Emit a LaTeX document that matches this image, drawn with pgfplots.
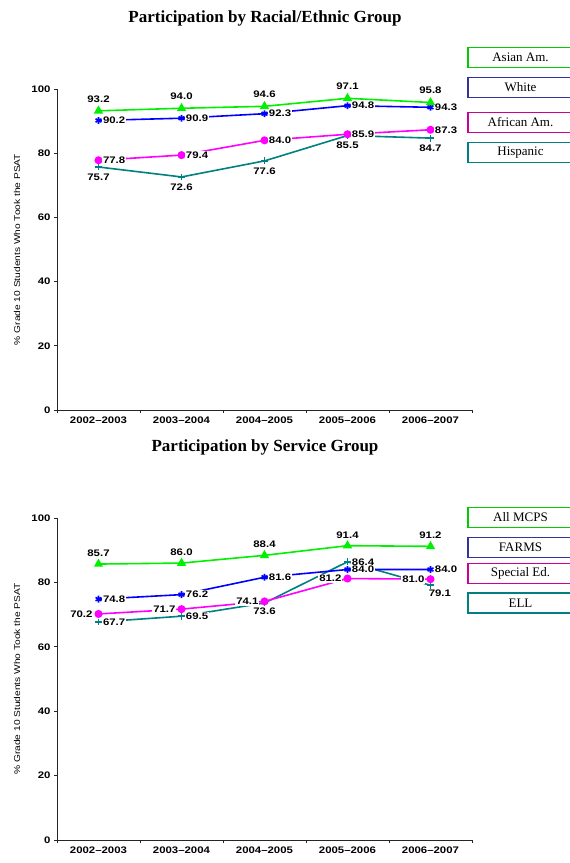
\documentclass[border=0pt]{standalone}
\usepackage{pgfplots}
\pgfplotsset{compat=1.18}
\usepackage{pgfplotstable}
\usepackage{fontspec}
\setmainfont{Liberation Serif}
\newfontfamily\lsans[FakeStretch=1.2]{Liberation Sans}

\definecolor{lgreen}{RGB}{0,240,0}
\definecolor{lblue}{RGB}{0,0,255}
\definecolor{lmag}{RGB}{255,0,255}
\definecolor{lteal}{RGB}{0,128,128}
\definecolor{bgreen}{RGB}{0,204,0}
\definecolor{bblue}{RGB}{51,51,153}
\definecolor{bmag}{RGB}{204,0,153}

% racial/ethnic groups
\pgfplotstableread{
x asian white african hispanic
1 93.2 90.2 77.8 75.7
2 94.0 90.9 79.4 72.6
3 94.6 92.3 84.0 77.6
4 97.1 94.8 85.9 85.5
5 95.8 94.3 87.3 84.7
}\racedata

% service groups
\pgfplotstableread{
x all farms
1 85.7 74.8
2 86.0 76.2
3 88.4 81.6
4 91.4 84.0
5 91.2 84.0
}\servdata
\pgfplotstableread{
x y
1 70.2
2 71.7
3 74.1
4 81.2
5 81.0
}\specdata
% anc = anchor angle of the value label
\pgfplotstableread{
x y anc
1 67.7 180
2 69.5 180
3 73.6 90
4 86.4 180
5 79.1 140
}\elldata

\newcommand{\lblfont}{\lsans\bfseries\fontsize{9.5}{11}\selectfont}

\pgfplotsset{
  psat/.style={
    scale only axis, width=415pt,
    xmin=0.5, xmax=5.5, ymin=0, ymax=100,
    axis x line*=bottom, axis y line*=left,
    axis line style={-, black!85, line width=0.9pt},
    xtick={1,...,5},
    xticklabels={2002–2003,2003–2004,2004–2005,2005–2006,2006–2007},
    minor xtick={0.5,1.5,2.5,3.5,4.5,5.5},
    major x tick style={draw=none},
    minor x tick style={draw=black!85, line width=0.9pt},
    ytick={0,20,40,60,80,100},
    y tick style={black!85, line width=0.9pt},
    tick align=outside,
    major tick length=3pt, minor tick length=3pt,
    tick label style={font=\lblfont},
    /pgf/number format/assume math mode=true,
    ylabel={\% Grade 10 Students Who Took the PSAT},
    ylabel style={font=\lsans\fontsize{8.5}{9}\selectfont,
      at={(axis description cs:-0.096,0.5)}, anchor=center},
    clip=false,
    nodes near coords={\pgfmathprintnumber[fixed,fixed zerofill,precision=1]{\pgfplotspointmeta}},
    every node near coord/.append style={font=\lblfont, text=black,
      fill=white, inner sep=1pt, outer sep=3.5pt},
  },
  ser/.style={line width=1.6pt, mark size=3.4pt, mark options={solid}},
}

\begin{document}
\begin{tikzpicture}
\useasboundingbox (0,0) rectangle (570pt,863pt);

% ---- top chart
\node[font=\bfseries\fontsize{17}{20}\selectfont] at (265pt,845pt)
  {Participation by Racial/Ethnic Group};
\begin{axis}[psat, height=321pt, at={(57pt,453pt)}, anchor=south west]
\addplot[ser, lteal, mark=+,
  every node near coord/.append style={anchor=north, yshift=-2pt}]
  table[x=x, y=hispanic] {\racedata};
\addplot[ser, lmag, mark=*, mark size=3.2pt,
  every node near coord/.append style={anchor=west}]
  table[x=x, y=african] {\racedata};
\addplot[ser, lblue, mark=asterisk,
  every node near coord/.append style={anchor=west}]
  table[x=x, y=white] {\racedata};
\addplot[ser, lgreen, mark=triangle*, mark size=3.8pt,
  every node near coord/.append style={anchor=south, yshift=4pt}]
  table[x=x, y=asian] {\racedata};
\end{axis}

\node[draw=bgreen, line width=1.8pt, minimum width=105pt, minimum height=20pt,
  font=\fontsize{13}{15}\selectfont] at (520.5pt,805.5pt) {Asian Am.};
\node[draw=bblue, line width=1.8pt, minimum width=105pt, minimum height=20pt,
  font=\fontsize{13}{15}\selectfont] at (520.5pt,775.5pt) {White};
\node[draw=bmag, line width=1.8pt, minimum width=105pt, minimum height=20pt,
  font=\fontsize{13}{15}\selectfont] at (520.5pt,740.5pt) {African Am.};
\node[draw=lteal, line width=1.8pt, minimum width=105pt, minimum height=20pt,
  font=\fontsize{13}{15}\selectfont] at (520.5pt,710.5pt) {Hispanic};

% ---- bottom chart
\node[font=\bfseries\fontsize{17}{20}\selectfont] at (265pt,416pt)
  {Participation by Service Group};
\begin{axis}[psat, height=322pt, at={(57pt,23pt)}, anchor=south west]
\addplot[ser, lteal, mark=+,
  point meta=explicit symbolic,
  visualization depends on={y\as\rawy},
  nodes near coords={\pgfmathprintnumber[fixed,fixed zerofill,precision=1]{\rawy}},
  every node near coord/.append style={anchor=\pgfplotspointmeta}]
  table[x=x, y=y, meta=anc] {\elldata};
\addplot[ser, lmag, mark=*, mark size=3.2pt,
  every node near coord/.append style={anchor=east, xshift=-1.5pt}]
  table[x=x, y=y] {\specdata};
\addplot[ser, lblue, mark=asterisk,
  every node near coord/.append style={anchor=west}]
  table[x=x, y=farms] {\servdata};
\addplot[ser, lgreen, mark=triangle*, mark size=3.8pt,
  every node near coord/.append style={anchor=south, yshift=3pt}]
  table[x=x, y=all] {\servdata};
\end{axis}

\node[draw=bgreen, line width=1.8pt, minimum width=105pt, minimum height=20pt,
  font=\fontsize{13}{15}\selectfont] at (520.5pt,345.5pt) {All MCPS};
\node[draw=bblue, line width=1.8pt, minimum width=105pt, minimum height=20pt,
  font=\fontsize{13}{15}\selectfont] at (520.5pt,315.5pt) {FARMS};
\node[draw=bmag, line width=1.8pt, minimum width=105pt, minimum height=20pt,
  font=\fontsize{13}{15}\selectfont] at (520.5pt,289.5pt) {Special Ed.};
\node[draw=lteal, line width=1.8pt, minimum width=105pt, minimum height=20pt,
  font=\fontsize{13}{15}\selectfont] at (520.5pt,260pt) {ELL};
\end{tikzpicture}
\end{document}
